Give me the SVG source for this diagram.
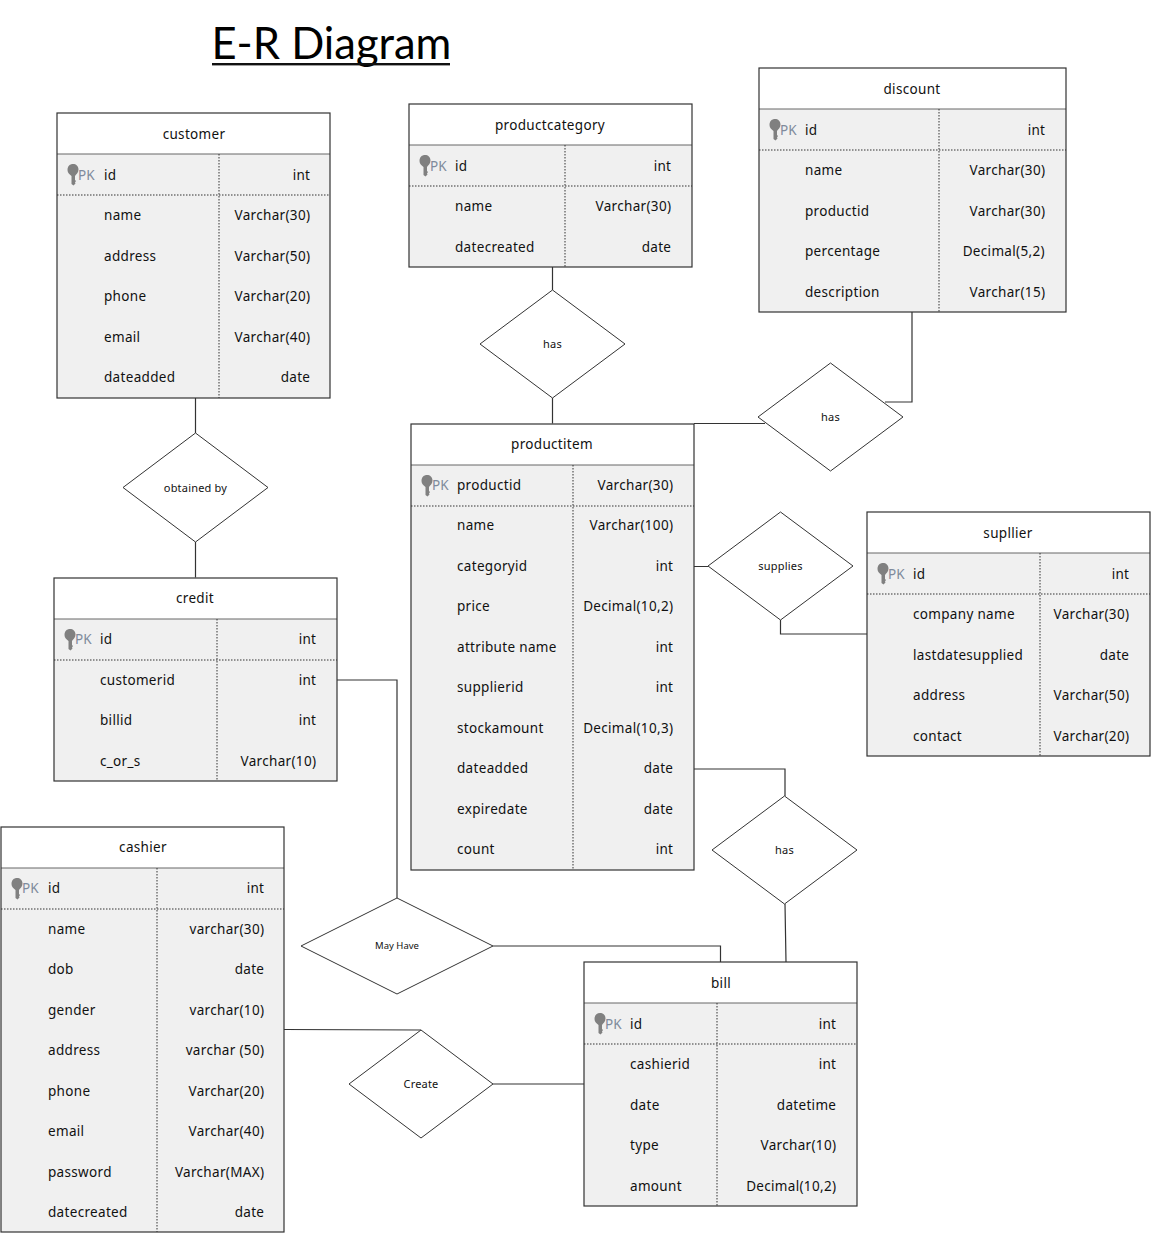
<svg xmlns="http://www.w3.org/2000/svg" xmlns:xlink="http://www.w3.org/1999/xlink" width="1151" height="1234" viewBox="0 0 1151 1234">
<style>
text{font-family:"Noto Sans","DejaVu Sans",sans-serif;font-size:13.5px;fill:#111;letter-spacing:.32px}
.t{text-anchor:middle}
.r{text-anchor:end;transform:translateX(-.7px)}
.pk{fill:#7f8a9c;font-size:13.5px;letter-spacing:0}
.title{font-family:Lato,"Open Sans",sans-serif;font-size:43.500px;fill:#000;letter-spacing:0}
.dl{font-size:11px;text-anchor:middle;letter-spacing:.2px}
.sm{font-size:9.5px;text-anchor:middle;letter-spacing:0}
.box{fill:#f0f0f0;stroke:none}
.hd{fill:#fff;stroke:none}
.frame{fill:none;stroke:#333;stroke-width:1.2}
.sep{stroke:#666;stroke-width:1;fill:none}
.dot{stroke:#333;stroke-width:1;stroke-dasharray:1.5 1.5;fill:none}
.dia{fill:#fff;stroke:#333;stroke-width:1}
.c{fill:none;stroke:#333;stroke-width:1.2}
</style>
<defs>
<g id="key"><path d="M-5.5 5C-5.5 1-3 -1 0 -1C3 -1 5.5 1 5.5 4.5C5.5 7.5 3.5 9 2 11V15L3 16L2 17.500L2.500 18.500L0.500 20.500L-1.500 19V11C-3.500 9.500-5.500 8-5.500 5Z" fill="#808080"/></g>
</defs>
<text class="title" x="211.500" y="59">E-R Diagram</text>
<rect x="212" y="63" width="238" height="2.4" fill="#111"/>
<g id="connectors">
<path class="c" d="M552.500 267V290M552.500 398V423.500"/>
<path class="c" d="M912 312V402H885M694 423.500H765"/>
<path class="c" d="M195.500 398V433M195.500 542V577.500"/>
<path class="c" d="M694 566.500H708M780.500 620V634H867"/>
<path class="c" d="M694 769H785V796M785 904L786 962"/>
<path class="c" d="M337 680H397V898M493 946H720.500V962"/>
<path class="c" d="M284 1029.500L421 1030M493 1084H584"/>
</g>
<g id="customer">
<rect class="box" x="57" y="154" width="273" height="244"/><rect class="hd" x="57" y="113" width="273" height="41"/>
<path class="sep" d="M57 154H330"/><path class="dot" d="M57 195H330M219 154V398"/><rect class="frame" x="57" y="113" width="273" height="285"/>
<use href="#key" x="73" y="165"/><text class="pk" x="78" y="180">PK</text>
<text class="t" x="194" y="139">customer</text>
<text x="104" y="180">id</text><text class="r" x="311" y="180">int</text>
<text x="104" y="220">name</text><text class="r" x="311" y="220">Varchar(30)</text>
<text x="104" y="261">address</text><text class="r" x="311" y="261">Varchar(50)</text>
<text x="104" y="301">phone</text><text class="r" x="311" y="301">Varchar(20)</text>
<text x="104" y="342">email</text><text class="r" x="311" y="342">Varchar(40)</text>
<text x="104" y="382">dateadded</text><text class="r" x="311" y="382">date</text>
</g>
<g id="productcategory">
<rect class="box" x="409" y="145" width="283" height="122"/><rect class="hd" x="409" y="104" width="283" height="41"/>
<path class="sep" d="M409 145H692"/><path class="dot" d="M409 186H692M565 145V267"/><rect class="frame" x="409" y="104" width="283" height="163"/>
<use href="#key" x="425" y="156"/><text class="pk" x="430" y="171">PK</text>
<text class="t" x="550" y="130">productcategory</text>
<text x="455" y="171">id</text><text class="r" x="672" y="171">int</text>
<text x="455" y="211">name</text><text class="r" x="672" y="211">Varchar(30)</text>
<text x="455" y="252">datecreated</text><text class="r" x="672" y="252">date</text>
</g>
<g id="discount">
<rect class="box" x="759" y="109" width="307" height="203"/><rect class="hd" x="759" y="68" width="307" height="41"/>
<path class="sep" d="M759 109H1066"/><path class="dot" d="M759 150H1066M939 109V312"/><rect class="frame" x="759" y="68" width="307" height="244"/>
<use href="#key" x="775" y="120"/><text class="pk" x="780" y="135">PK</text>
<text class="t" x="912" y="94">discount</text>
<text x="805" y="135">id</text><text class="r" x="1046" y="135">int</text>
<text x="805" y="175">name</text><text class="r" x="1046" y="175">Varchar(30)</text>
<text x="805" y="216">productid</text><text class="r" x="1046" y="216">Varchar(30)</text>
<text x="805" y="256">percentage</text><text class="r" x="1045.500" y="256">Decimal(5,2)</text>
<text x="805" y="297">description</text><text class="r" x="1046" y="297">Varchar(15)</text>
</g>
<g id="productitem">
<rect class="box" x="411" y="465" width="283" height="405"/><rect class="hd" x="411" y="424" width="283" height="41"/>
<path class="sep" d="M411 465H694"/><path class="dot" d="M411 506H694M573 465V870"/><rect class="frame" x="411" y="424" width="283" height="446"/>
<use href="#key" x="427" y="476"/><text class="pk" x="432" y="490">PK</text>
<text class="t" x="552" y="449">productitem</text>
<text x="457" y="490">productid</text><text class="r" x="674" y="490">Varchar(30)</text>
<text x="457" y="530">name</text><text class="r" x="674" y="530">Varchar(100)</text>
<text x="457" y="571">categoryid</text><text class="r" x="674" y="571">int</text>
<text x="457" y="611">price</text><text class="r" x="674" y="611">Decimal(10,2)</text>
<text x="457" y="652">attribute name</text><text class="r" x="674" y="652">int</text>
<text x="457" y="692">supplierid</text><text class="r" x="674" y="692">int</text>
<text x="457" y="733">stockamount</text><text class="r" x="674" y="733">Decimal(10,3)</text>
<text x="457" y="773">dateadded</text><text class="r" x="674" y="773">date</text>
<text x="457" y="814">expiredate</text><text class="r" x="674" y="814">date</text>
<text x="457" y="854">count</text><text class="r" x="674" y="854">int</text>
</g>
<g id="supllier">
<rect class="box" x="867" y="553" width="283" height="203"/><rect class="hd" x="867" y="512" width="283" height="41"/>
<path class="sep" d="M867 553H1150"/><path class="dot" d="M867 594H1150M1040 553V756"/><rect class="frame" x="867" y="512" width="283" height="244"/>
<use href="#key" x="883" y="564"/><text class="pk" x="888" y="579">PK</text>
<text class="t" x="1008" y="538">supllier</text>
<text x="913" y="579">id</text><text class="r" x="1130" y="579">int</text>
<text x="913" y="619">company name</text><text class="r" x="1130" y="619">Varchar(30)</text>
<text x="913" y="660">lastdatesupplied</text><text class="r" x="1130" y="660">date</text>
<text x="913" y="700">address</text><text class="r" x="1130" y="700">Varchar(50)</text>
<text x="913" y="741">contact</text><text class="r" x="1130" y="741">Varchar(20)</text>
</g>
<g id="credit">
<rect class="box" x="54" y="619" width="283" height="162"/><rect class="hd" x="54" y="578" width="283" height="41"/>
<path class="sep" d="M54 619H337"/><path class="dot" d="M54 660H337M217 619V781"/><rect class="frame" x="54" y="578" width="283" height="203"/>
<use href="#key" x="70" y="630"/><text class="pk" x="75" y="644">PK</text>
<text class="t" x="195" y="603">credit</text>
<text x="100" y="644">id</text><text class="r" x="317" y="644">int</text>
<text x="100" y="685">customerid</text><text class="r" x="317" y="685">int</text>
<text x="100" y="725">billid</text><text class="r" x="317" y="725">int</text>
<text x="100" y="766">c_or_s</text><text class="r" x="317" y="766">Varchar(10)</text>
</g>
<g id="cashier">
<rect class="box" x="1" y="868" width="283" height="364"/><rect class="hd" x="1" y="827" width="283" height="41"/>
<path class="sep" d="M1 868H284"/><path class="dot" d="M1 909H284M157 868V1232"/><rect class="frame" x="1" y="827" width="283" height="405"/>
<use href="#key" x="17" y="879"/><text class="pk" x="22" y="893">PK</text>
<text class="t" x="143" y="852">cashier</text>
<text x="48" y="893">id</text><text class="r" x="265" y="893">int</text>
<text x="48" y="934">name</text><text class="r" x="265" y="934">varchar(30)</text>
<text x="48" y="974">dob</text><text class="r" x="265" y="974">date</text>
<text x="48" y="1015">gender</text><text class="r" x="265" y="1015">varchar(10)</text>
<text x="48" y="1055">address</text><text class="r" x="265" y="1055">varchar (50)</text>
<text x="48" y="1096">phone</text><text class="r" x="265" y="1096">Varchar(20)</text>
<text x="48" y="1136">email</text><text class="r" x="265" y="1136">Varchar(40)</text>
<text x="48" y="1177">password</text><text class="r" x="265" y="1177">Varchar(MAX)</text>
<text x="48" y="1217">datecreated</text><text class="r" x="265" y="1217">date</text>
</g>
<g id="bill">
<rect class="box" x="584" y="1003" width="273" height="203"/><rect class="hd" x="584" y="962" width="273" height="41"/>
<path class="sep" d="M584 1003H857"/><path class="dot" d="M584 1044H857M717 1003V1206"/><rect class="frame" x="584" y="962" width="273" height="244"/>
<use href="#key" x="600" y="1014"/><text class="pk" x="605" y="1029">PK</text>
<text class="t" x="721" y="988">bill</text>
<text x="630" y="1029">id</text><text class="r" x="837" y="1029">int</text>
<text x="630" y="1069">cashierid</text><text class="r" x="837" y="1069">int</text>
<text x="630" y="1110">date</text><text class="r" x="837" y="1110">datetime</text>
<text x="630" y="1150">type</text><text class="r" x="837" y="1150">Varchar(10)</text>
<text x="630" y="1191">amount</text><text class="r" x="837" y="1191">Decimal(10,2)</text>
</g>
<g id="rel-has-category"><polygon class="dia" points="552.500,290 625,344 552.500,398 480,344"/><text class="dl" x="552.500" y="348">has</text></g>
<g id="rel-has-discount"><polygon class="dia" points="830.500,363 903,417 830.500,471 758,417"/><text class="dl" x="830.500" y="421">has</text></g>
<g id="rel-obtained"><polygon class="dia" points="195.500,433 268,487.500 195.500,542 123,487.500"/><text class="dl" x="195.500" y="492">obtained by</text></g>
<g id="rel-supplies"><polygon class="dia" points="780.500,512 853,566 780.500,620 708,566"/><text class="dl" x="780.500" y="570">supplies</text></g>
<g id="rel-has-bill"><polygon class="dia" points="784.500,796 857,850 784.500,904 712,850"/><text class="dl" x="784.500" y="854">has</text></g>
<g id="rel-mayhave"><polygon class="dia" points="397,898 493,946 397,994 301,946"/><text class="sm" x="397" y="949">May Have</text></g>
<g id="rel-create"><polygon class="dia" points="421,1030 493,1084 421,1138 349,1084"/><text class="dl" x="421" y="1088">Create</text></g>
</svg>
